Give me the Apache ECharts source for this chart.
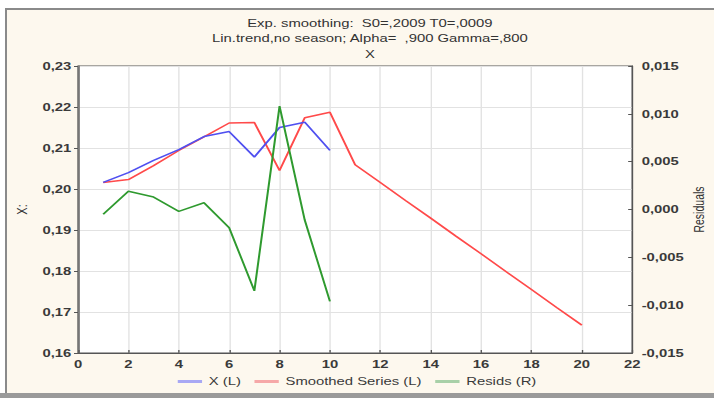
<!DOCTYPE html>
<html>
<head>
<meta charset="utf-8">
<script src="https://cdn.jsdelivr.net/npm/echarts@6/dist/echarts.min.js"></script>
<style>
  html, body { margin: 0; padding: 0; background: #fff; overflow: hidden; }
  .frame { position: absolute; left: 5px; top: 8px; width: 709px; height: 385px; background: #fdf8ee; border-top: 2px solid #8a8a8a; border-left: 2px solid #8a8a8a; box-sizing: border-box; }
  .bottom-bar { position: absolute; left: 0; top: 393px; width: 714px; height: 5px; background: #9a9a9a; }
  /* the source screenshot is stretched sideways, so draw narrower and scale */
  #chart { position: absolute; left: 0; top: 0; width: 529px; height: 398px; transform: scaleX(1.35); transform-origin: 0 0; }
</style>
</head>
<body>
<div class="frame"></div>
<div class="bottom-bar"></div>
<div id="chart"></div>
<script>
// observed series, x = 1..10
const obsX = [1, 2, 3, 4, 5, 6, 7, 8, 9, 10];
const seriesX = [0.2016, 0.2040, 0.2070, 0.2096, 0.2128, 0.2140, 0.2078, 0.2150, 0.2163, 0.2094];
// smoothed series incl. forecast, x = 1..20
const smoothX = [1, 2, 3, 4, 5, 6, 7, 8, 9, 10, 11, 12, 13, 14, 15, 16, 17, 18, 19, 20];
const smoothed = [0.2016, 0.2023, 0.2057, 0.2094, 0.2127, 0.2161, 0.2162, 0.2045, 0.2174, 0.2187,
                  0.2059, 0.2016, 0.1972, 0.1929, 0.1885, 0.1842, 0.1798, 0.1755, 0.1711, 0.1668];
// residuals (right axis)
const resids = [-0.0005, 0.0019, 0.0013, -0.0002, 0.0007, -0.0019, -0.0085, 0.0108, -0.0011, -0.0096];

const titleLines = ['Exp. smoothing:  S0=,2009 T0=,0009', 'Lin.trend,no season; Alpha=  ,900 Gamma=,800', 'X'];

const pairs = (xs, ys) => xs.map((x, i) => [x, ys[i]]);
const comma = (v, d) => v.toFixed(d).replace('.', ',');

const chart = echarts.init(document.getElementById('chart'), null, { renderer: 'svg' });
const font = 'Liberation Sans, Arial, sans-serif';
const labelStyle = { color: '#3a3a3a', fontSize: 11, fontFamily: font, fontWeight: 'bold' };

chart.setOption({
  animation: false,
  textStyle: { fontFamily: font },
  title: {
    text: titleLines.join('\n'),
    left: 269, top: 10, textAlign: 'center',
    textStyle: { fontSize: 11, fontWeight: 'normal', color: '#333', lineHeight: 15.5, fontFamily: font }
  },
  grid: {
    left: 57.8, right: 60.7, top: 66, bottom: 45, outerBoundsMode: 'none', containLabel: false,
    show: true, backgroundColor: '#fff', borderColor: '#555', borderWidth: 1
  },
  legend: {
    bottom: 6, left: 'center', icon: 'rect', itemWidth: 18, itemHeight: 3, itemGap: 10,
    textStyle: { color: '#3a3a3a', fontSize: 11, fontFamily: font },
    data: [
      { name: 'X (L)', itemStyle: { color: '#a8a8f4' } },
      { name: 'Smoothed Series (L)', itemStyle: { color: '#f6a8a8' } },
      { name: 'Resids (R)', itemStyle: { color: '#a8d0a8' } }
    ]
  },
  xAxis: {
    type: 'value', min: 0, max: 22, interval: 2,
    axisLine: { onZero: false, lineStyle: { color: '#555' } },
    axisTick: { inside: true, length: 3, lineStyle: { color: '#555' } },
    axisLabel: { ...labelStyle, margin: 6 },
    splitLine: { show: true, lineStyle: { color: '#e2e2e2', width: 1 } }
  },
  yAxis: [
    {
      type: 'value', min: 0.16, max: 0.23, interval: 0.01,
      name: 'X:', nameLocation: 'middle', nameGap: 36, nameRotate: 90, nameMoveOverlap: false,
      nameTextStyle: { color: '#333', fontSize: 11, fontFamily: font },
      axisLine: { show: true, onZero: false, lineStyle: { color: '#555' } },
      axisTick: { show: true, length: 3, lineStyle: { color: '#555' } },
      axisLabel: { ...labelStyle, margin: 5, formatter: v => comma(v, 2) },
      splitLine: { show: true, lineStyle: { color: '#e2e2e2', width: 1 } }
    },
    {
      type: 'value', min: -0.015, max: 0.015, interval: 0.005, position: 'right',
      name: 'Residuals', nameLocation: 'middle', nameGap: 44, nameRotate: 90, nameMoveOverlap: false,
      nameTextStyle: { color: '#333', fontSize: 10.5, fontFamily: font },
      axisLine: { show: true, onZero: false, lineStyle: { color: '#555' } },
      axisTick: { show: true, inside: true, length: 3, lineStyle: { color: '#555' } },
      axisLabel: { ...labelStyle, margin: 7, formatter: v => comma(v, 3) },
      splitLine: { show: false }
    }
  ],
  series: [
    {
      name: 'X (L)', type: 'line', yAxisIndex: 0, symbol: 'none',
      data: pairs(obsX, seriesX),
      lineStyle: { color: '#5050f0', width: 1.5 }, itemStyle: { color: '#5050f0' }, z: 3
    },
    {
      name: 'Smoothed Series (L)', type: 'line', yAxisIndex: 0, symbol: 'none',
      data: pairs(smoothX, smoothed),
      lineStyle: { color: '#ff4a4a', width: 1.5 }, itemStyle: { color: '#ff4a4a' }, z: 2
    },
    {
      name: 'Resids (R)', type: 'line', yAxisIndex: 1, symbol: 'none',
      data: pairs(obsX, resids),
      lineStyle: { color: '#2f9a2f', width: 1.5 }, itemStyle: { color: '#2f9a2f' }, z: 4
    }
  ]
});
</script>
</body>
</html>
